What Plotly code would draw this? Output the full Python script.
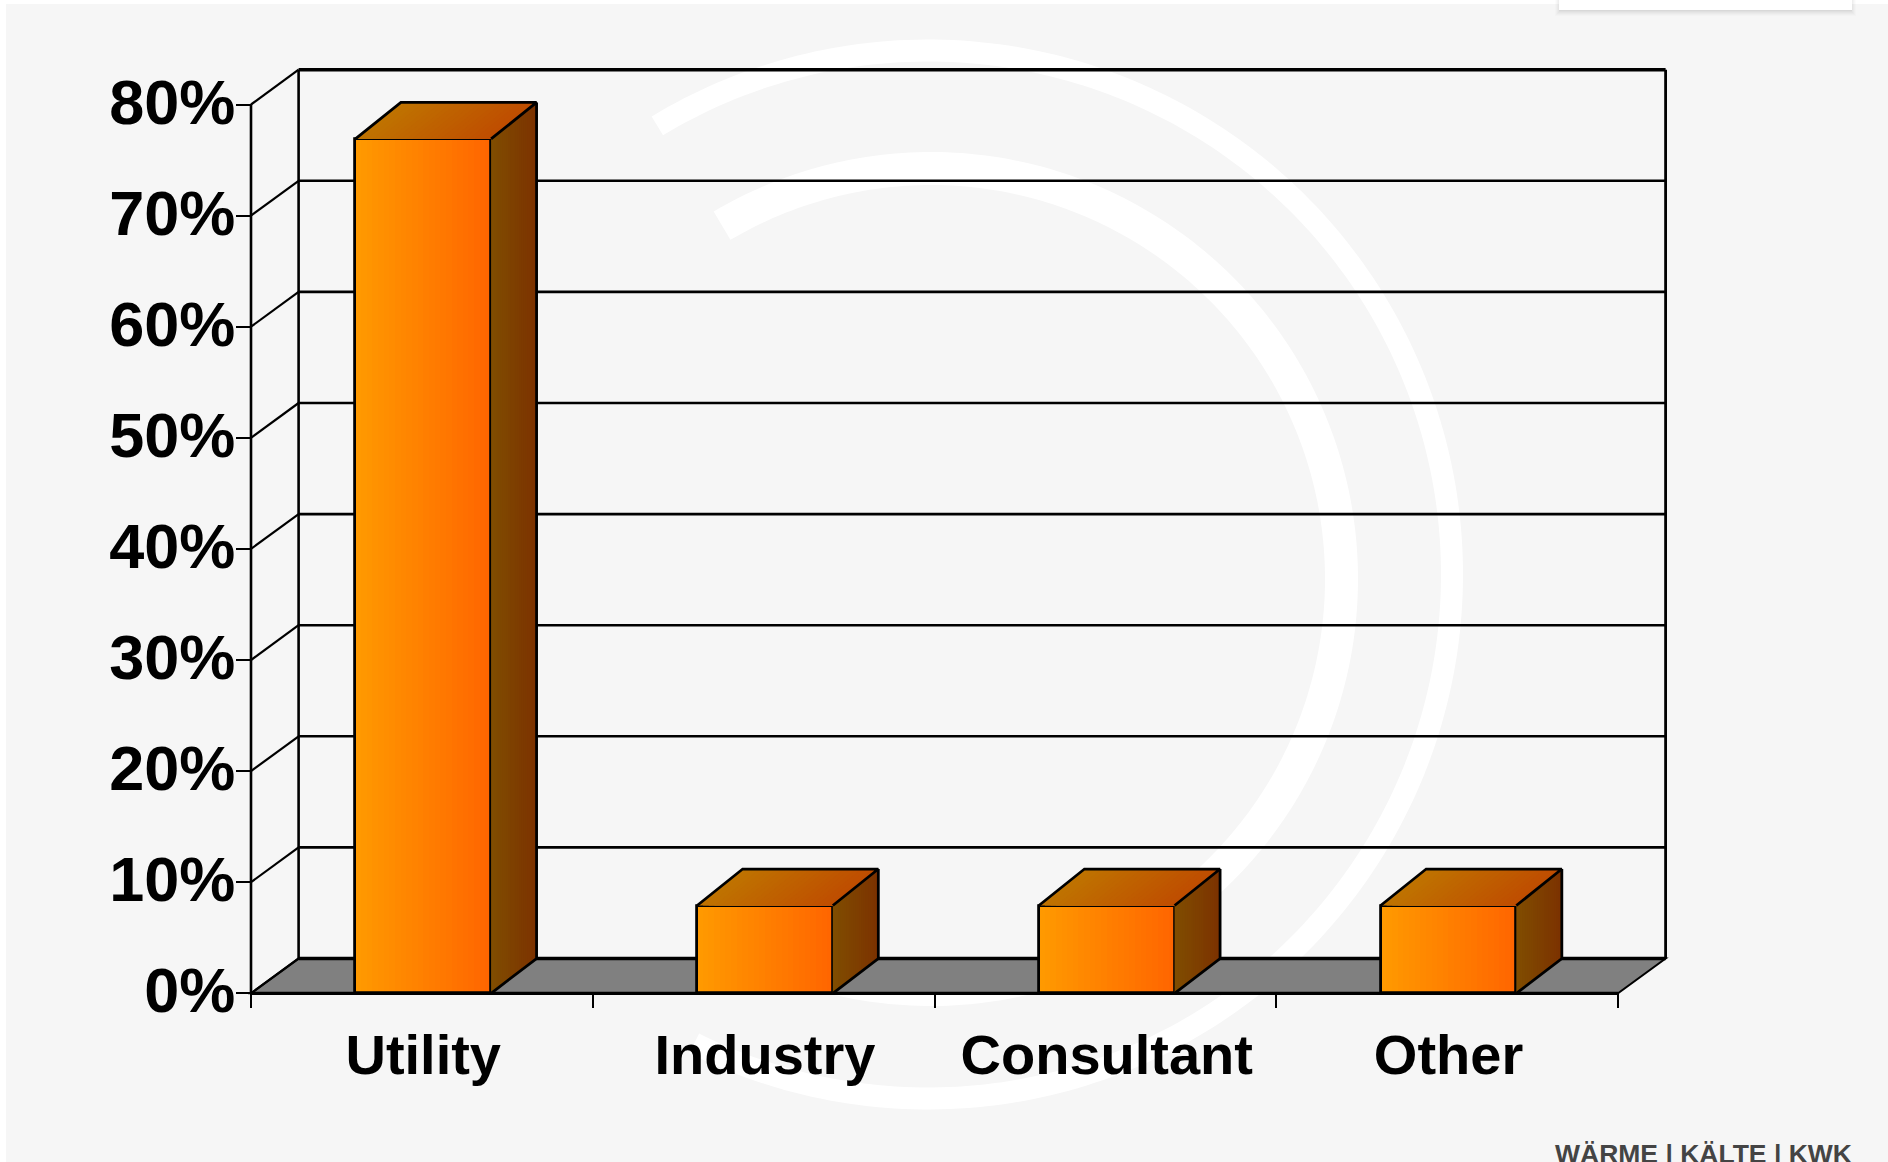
import numpy as np
import plotly.graph_objects as go

# ---- data ----
categories = ["Utility", "Industry", "Consultant", "Other"]
share_pct = [76.9, 7.9, 7.9, 7.9]
y_ticks = [0, 10, 20, 30, 40, 50, 60, 70, 80]
y_tick_labels = ["0%", "10%", "20%", "30%", "40%", "50%", "60%", "70%", "80%"]
x_boundaries = [0, 1, 2, 3, 4]
bar_centres = [0.504, 1.504, 2.504, 3.504]

# ---- page geometry (pixels) ----
W, H = 1888, 1162
X0_PX, X_UNIT_PX = 251.0, 341.75      # pixel of x=0, pixels per category
Y0_PX, Y_UNIT_PX = 993.3, 11.11       # pixel of y=0, pixels per 1 %
x_range = [(0 - X0_PX) / X_UNIT_PX, (W - X0_PX) / X_UNIT_PX]
y_range = [(Y0_PX - H) / Y_UNIT_PX, Y0_PX / Y_UNIT_PX]

BAR_W = 0.397
DX = 47.6 / X_UNIT_PX     # depth of the back wall
DY = 34.8 / Y_UNIT_PX
BAR_DX = 45.5 / X_UNIT_PX # depth of a bar
BAR_DY = 36.5 / Y_UNIT_PX
N_BANDS = 24
BG = "#f6f6f6"


def mix(c0, c1, t):
    return "rgb(%d,%d,%d)" % tuple(round(a + (b - a) * t) for a, b in zip(c0, c1))


FRONT = ((255, 153, 0), (255, 102, 0))
TOP = ((191, 115, 0), (191, 77, 0))
SIDE = ((128, 77, 0), (124, 50, 0))


def px(x):
    return x / W


def py(y):
    return 1 - y / H


def ring(cx, cy, r_out, r_in, a0, a1):
    """Closed ring-sector path in paper coordinates; angles in degrees, clockwise on screen."""
    t = np.radians(np.linspace(a0, a1, 240))
    xo, yo = cx + r_out * np.cos(t), cy + r_out * np.sin(t)
    xi, yi = cx + r_in * np.cos(t[::-1]), cy + r_in * np.sin(t[::-1])
    xs, ys = np.r_[xo, xi], np.r_[yo, yi]
    return "M" + " L".join(f"{px(a):.5f},{py(b):.5f}" for a, b in zip(xs, ys)) + " Z"


def paper_rect(x0, y0, x1, y1, color):
    return dict(type="rect", xref="paper", yref="paper", layer="below",
                x0=px(x0), x1=px(x1), y0=py(y0), y1=py(y1),
                fillcolor=color, line=dict(width=0))


def data_line(x0, y0, x1, y1, width):
    return dict(type="line", xref="x", yref="y", layer="below", x0=x0, y0=y0, x1=x1, y1=y1,
                line=dict(color="black", width=width))


x_end = x_boundaries[-1]
y_top = y_ticks[-1]

shapes = [paper_rect(6, 4, W, H, BG)]
# faint swirl watermark
for args in [(928, 574.5, 535, 513, 238.9, 116.5), (931, 579, 427, 394, 239.4, 116.5)]:
    cx, cy, ro, ri, a0, a1 = args
    shapes.append(dict(type="path", xref="paper", yref="paper", layer="below",
                       path=ring(cx, cy, ro, ri, a0 - 360, a1),
                       fillcolor="#ffffff", line=dict(width=0)))
# card at the top right, with a soft shadow
for grow, alpha in [(6, 0.012), (5, 0.015), (4, 0.018), (3, 0.02), (2, 0.025), (1, 0.03)]:
    side = max(grow - 2, 0)
    shapes.append(paper_rect(1559 - side, 0, 1852 + side, 10 + grow, f"rgba(0,0,0,{alpha})"))
shapes.append(paper_rect(1559, 0, 1852, 10, "#ffffff"))

# floor
shapes.append(dict(type="path", xref="x", yref="y", layer="below",
                   path=f"M0,0 L{DX},{DY} L{x_end + DX},{DY} L{x_end},0 Z",
                   fillcolor="#808080", line=dict(color="black", width=2)))
# walls and gridlines
for v in y_ticks[1:]:
    shapes.append(data_line(DX, v + DY, x_end + DX, v + DY, 3.4 if v == y_top else 2.6))
for v in y_ticks:
    shapes.append(data_line(0, v, DX, v + DY, 2.2))
shapes.append(data_line(DX, DY, x_end + DX, DY, 3.6))
shapes.append(data_line(0, 0, 0, y_top, 2.6))
shapes.append(data_line(DX, DY, DX, y_top + DY, 2.6))
shapes.append(data_line(x_end + DX, DY, x_end + DX, y_top + DY, 2.8))
shapes.append(data_line(0, 0, x_end, 0, 3.2))

fig = go.Figure()

# front faces: overlapping bar bands make the left-to-right gradient
band = BAR_W / N_BANDS
for k in range(N_BANDS):
    t = k / (N_BANDS - 1)
    fig.add_trace(go.Bar(x=bar_centres, y=share_pct, width=BAR_W - k * band,
                         offset=-BAR_W / 2 + k * band,
                         marker=dict(color=mix(*FRONT, t), line=dict(width=0)),
                         hoverinfo="skip", showlegend=False))
fig.add_trace(go.Bar(x=bar_centres, y=share_pct, width=BAR_W, offset=-BAR_W / 2,
                     marker=dict(color="rgba(0,0,0,0)", line=dict(color="black", width=2.8)),
                     hovertemplate="%{y}%<extra></extra>", showlegend=False))

# top and side faces
for k in range(N_BANDS):
    t = k / (N_BANDS - 1)
    tx, ty, sx, sy = [], [], [], []
    for c, v in zip(bar_centres, share_pct):
        l, r = c - BAR_W / 2, c + BAR_W / 2
        a = l + k * band
        tx += [a, a + BAR_DX, r + BAR_DX, r, a, None]
        ty += [v, v + BAR_DY, v + BAR_DY, v, v, None]
        d0 = k / N_BANDS * BAR_DX
        d0y = k / N_BANDS
        sx += [r + d0, r + BAR_DX, r + BAR_DX, r + d0, r + d0, None]
        sy += [v + d0y * BAR_DY, v + BAR_DY, DY, d0y * DY, v + d0y * BAR_DY, None]
    fig.add_trace(go.Scatter(x=tx, y=ty, mode="lines", fill="toself", line=dict(width=0),
                             fillcolor=mix(*TOP, t), hoverinfo="skip", showlegend=False))
    fig.add_trace(go.Scatter(x=sx, y=sy, mode="lines", fill="toself", line=dict(width=0),
                             fillcolor=mix(*SIDE, t), hoverinfo="skip", showlegend=False))

# black edges of top and side
ex, ey = [], []
for c, v in zip(bar_centres, share_pct):
    l, r = c - BAR_W / 2, c + BAR_W / 2
    ex += [l, l + BAR_DX, r + BAR_DX, r, None, r + BAR_DX, r + BAR_DX, r, None]
    ey += [v, v + BAR_DY, v + BAR_DY, v, None, v + BAR_DY, DY, 0, None]
fig.add_trace(go.Scatter(x=ex, y=ey, mode="lines", line=dict(color="black", width=2.8),
                         hoverinfo="skip", showlegend=False))

fig.update_layout(
    width=W, height=H, autosize=False,
    margin=dict(l=0, r=0, t=0, b=0),
    paper_bgcolor="#ffffff", plot_bgcolor="rgba(0,0,0,0)",
    barmode="overlay", bargap=0, showlegend=False,
    shapes=shapes,
    font=dict(family="Liberation Sans, Arial, sans-serif", color="black"),
    xaxis=dict(domain=[0, 1], range=x_range, anchor="free", position=py(Y0_PX),
               tickmode="array", tickvals=bar_centres, ticktext=categories,
               ticks="outside", ticklen=12, tickcolor="rgba(0,0,0,0)", tickwidth=1,
               tickfont=dict(size=56, family="Liberation Sans, Arial, sans-serif", weight="bold", color="black"),
               minor=dict(tickmode="array", tickvals=x_boundaries, ticks="outside", ticklen=14,
                          tickwidth=2, tickcolor="black", showgrid=False),
               showgrid=False, zeroline=False, showline=False, fixedrange=True),
    yaxis=dict(domain=[0, 1], range=y_range, anchor="free", position=px(X0_PX),
               tickmode="array", tickvals=y_ticks, ticktext=y_tick_labels,
               ticks="outside", ticklen=15, tickwidth=2, tickcolor="black",
               ticklabelstandoff=-12, ticklabelshift=-3,
               tickfont=dict(size=63, family="Liberation Sans, Arial, sans-serif", weight="bold", color="black"),
               showgrid=False, zeroline=False, showline=False, fixedrange=True),
    annotations=[dict(text="<b>WÄRME | KÄLTE | KWK</b>", xref="paper", yref="paper",
                      x=px(1854), y=py(1137), xanchor="right", yanchor="top", showarrow=False,
                      font=dict(size=26.5, color="#444444"))],
)

fig.write_html("out.html", config=dict(displayModeBar=False),
               post_script="document.body.style.margin='0';document.body.style.overflow='hidden';")
